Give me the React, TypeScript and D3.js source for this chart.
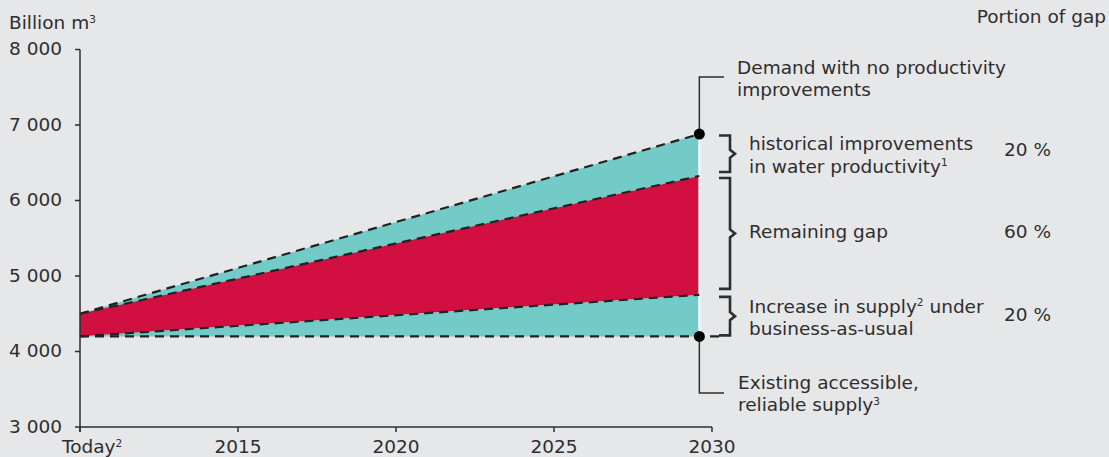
import React from "react";
import * as d3 from "d3";

// Period covered: "Today" through 2030
const periodYears = [2010, 2029.6];
// Withdrawals, billion m³
const demandNoImprovement = [4500, 6880];
const demandWithHistoricalImprovement = [4500, 6325];
const supplyBusinessAsUsual = [4200, 4750];
const existingSupply = [4200, 4200];

const yTicks = [3000, 4000, 5000, 6000, 7000, 8000];
const xTicks = [2010, 2015, 2020, 2025, 2030];
const xTickLabels = ["Today", "2015", "2020", "2025", "2030"];

const gapShares = ["20 %", "60 %", "20 %"];

const W = 1109;
const H = 457;
const BG = "#e6e7e9";
const TEAL = "#73cbc8";
const RED = "#d10f41";
const INK = "#2e2e2e";
const FONT = "'DejaVu Sans', Verdana, sans-serif";
const FS = 18.5;

const x = d3.scaleLinear().domain([2010, 2030]).range([80, 712]);
const y = d3.scaleLinear().domain([3000, 8000]).range([427, 49.5]);

type Pt = { year: number; lo: number; hi: number };
const band = (lo: number[], hi: number[]): Pt[] =>
  periodYears.map((year, i) => ({ year, lo: lo[i], hi: hi[i] }));

const area = d3
  .area<Pt>()
  .x((d) => x(d.year))
  .y0((d) => y(d.lo))
  .y1((d) => y(d.hi));

const line = d3
  .line<[number, number]>()
  .x((d) => x(d[0]))
  .y((d) => y(d[1]));

const series = (vals: number[]) =>
  periodYears.map((yr, i) => [yr, vals[i]] as [number, number]);

function Bracket({ top, bottom }: { top: number; bottom: number }) {
  const xl = 719;
  const xv = 730;
  const xt = 735;
  const mid = (top + bottom) / 2;
  const d = `M${xl},${top}H${xv}V${mid - 4}L${xt},${mid}L${xv},${mid + 4}V${bottom}H${xl}`;
  return <path d={d} fill="none" stroke={INK} strokeWidth={2.6} />;
}

export default function App() {
  const endX = x(periodYears[1]);
  const yDemand = y(demandNoImprovement[1]);
  const yImproved = y(demandWithHistoricalImprovement[1]);
  const ySupply = y(supplyBusinessAsUsual[1]);
  const yExisting = y(existingSupply[1]);

  const dash = "9,6";
  const textProps = { fontFamily: FONT, fontSize: FS, fill: INK };
  const sup = { fontSize: 10.5, dy: -6.5 } as const;

  return (
    <svg
      width={W}
      height={H}
      style={{ position: "absolute", left: 0, top: 0, background: BG }}
    >
      <rect width={W} height={H} fill={BG} />

      {/* stacked bands */}
      <path d={area(band(demandWithHistoricalImprovement, demandNoImprovement))!} fill={TEAL} />
      <path d={area(band(supplyBusinessAsUsual, demandWithHistoricalImprovement))!} fill={RED} />
      <path d={area(band(existingSupply, supplyBusinessAsUsual))!} fill={TEAL} />

      {/* right edge of the bands */}
      <line x1={endX} x2={endX} y1={yDemand} y2={yExisting} stroke="#fff" strokeWidth={2} />

      {/* dashed boundaries */}
      {[demandNoImprovement, demandWithHistoricalImprovement, supplyBusinessAsUsual].map((s, i) => (
        <path
          key={i}
          d={line(series(s))!}
          fill="none"
          stroke="#222"
          strokeWidth={2.2}
          strokeDasharray={dash}
        />
      ))}
      <line
        x1={x(periodYears[0])}
        x2={endX + 20}
        y1={yExisting}
        y2={yExisting}
        stroke="#222"
        strokeWidth={2.4}
        strokeDasharray={dash}
      />

      {/* axes */}
      <line x1={80} x2={80} y1={y(8000)} y2={y(3000) + 5} stroke={INK} strokeWidth={1.5} />
      <line x1={80} x2={x(2030)} y1={y(3000)} y2={y(3000)} stroke={INK} strokeWidth={1.5} />
      {yTicks.map((t) => (
        <g key={t}>
          <line x1={75} x2={80} y1={y(t)} y2={y(t)} stroke={INK} strokeWidth={1.5} />
          <text x={62} y={y(t) + 5.5} textAnchor="end" {...textProps}>
            {d3.format(",")(t).replace(",", " ")}
          </text>
        </g>
      ))}
      {xTicks.map((t, i) => (
        <g key={t}>
          <line x1={x(t)} x2={x(t)} y1={y(3000)} y2={y(3000) + 5} stroke={INK} strokeWidth={1.5} />
          {i === 0 ? (
            <text x={x(t) - 18} y={453} {...textProps}>
              {xTickLabels[i]}
              <tspan {...sup}>2</tspan>
            </text>
          ) : (
            <text x={x(t)} y={453} textAnchor="middle" {...textProps}>
              {xTickLabels[i]}
            </text>
          )}
        </g>
      ))}

      <text x={9} y={29} {...textProps}>
        Billion m<tspan {...sup}>3</tspan>
      </text>
      <text x={1106} y={23} textAnchor="end" {...textProps}>
        Portion of gap
      </text>

      {/* leaders to the end points */}
      <path d={`M${endX},${yDemand}V77H724`} fill="none" stroke={INK} strokeWidth={1.5} />
      <path d={`M${endX},${yExisting}V393H724`} fill="none" stroke={INK} strokeWidth={1.5} />
      <circle cx={endX} cy={yDemand} r={5.5} fill="#000" />
      <circle cx={endX} cy={yExisting} r={5.5} fill="#000" />

      <text x={737} y={74} {...textProps}>
        Demand with no productivity
      </text>
      <text x={737} y={96} {...textProps}>
        improvements
      </text>
      <text x={738} y={388.5} {...textProps}>
        Existing accessible,
      </text>
      <text x={738} y={411} {...textProps}>
        reliable supply<tspan {...sup}>3</tspan>
      </text>

      {/* gap breakdown */}
      <Bracket top={yDemand + 1.5} bottom={yImproved - 4} />
      <Bracket top={yImproved + 2} bottom={ySupply - 6} />
      <Bracket top={ySupply + 2} bottom={yExisting - 1} />

      <text x={749} y={150} {...textProps}>
        historical improvements
      </text>
      <text x={749} y={172.5} {...textProps}>
        in water productivity<tspan {...sup}>1</tspan>
      </text>
      <text x={749} y={237.5} {...textProps}>
        Remaining gap
      </text>
      <text x={749} y={312.5} {...textProps}>
        Increase in supply<tspan {...sup}>2</tspan>
        <tspan dy={6.5}> under</tspan>
      </text>
      <text x={749} y={334.5} {...textProps}>
        business-as-usual
      </text>

      {[156, 237.5, 320.5].map((by, i) => (
        <text key={i} x={1004} y={by} {...textProps}>
          {gapShares[i]}
        </text>
      ))}
    </svg>
  );
}
